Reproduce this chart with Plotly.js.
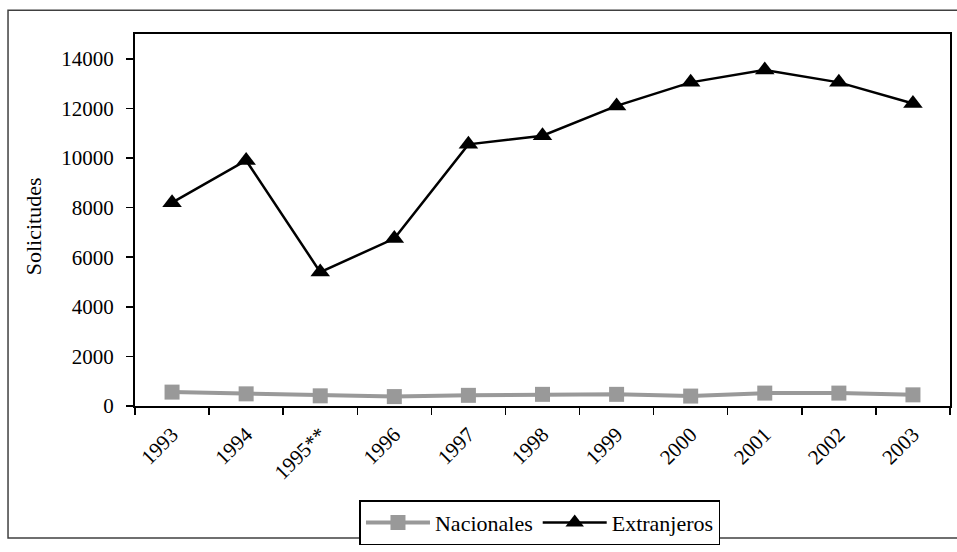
<!DOCTYPE html>
<html>
<head>
<meta charset="utf-8">
<script src="https://cdn.plot.ly/plotly-3.0.1.min.js"></script>
<style>html,body{margin:0;padding:0;background:#fff;}#chart{width:957px;height:552px;}</style>
</head>
<body>
<div id="chart"></div>
<script>
const years = ["1993","1994","1995**","1996","1997","1998","1999","2000","2001","2002","2003"];
const nacionales = [560, 490, 410, 380, 430, 470, 470, 400, 520, 520, 450];
const extranjeros = [8200, 9900, 5400, 6750, 10550, 10900, 12100, 13050, 13550, 13050, 12200];
const yTicks = [0, 2000, 4000, 6000, 8000, 10000, 12000, 14000];
const yTitle = "Solicitudes";

const font = "Liberation Serif, Times New Roman, serif";

const traces = [
  {
    x: years, y: nacionales, name: "Nacionales", type: "scatter", mode: "lines+markers",
    line: {color: "#999999", width: 4},
    marker: {symbol: "square", size: 15, color: "#999999"}
  },
  {
    x: years, y: extranjeros, name: "Extranjeros", type: "scatter", mode: "lines+markers",
    line: {color: "#000000", width: 2.5},
    marker: {symbol: "triangle-up", size: 17, color: "#000000"}
  }
];

const layout = {
  width: 957, height: 552,
  margin: {l: 135, r: 7, t: 34, b: 143},
  paper_bgcolor: "#ffffff", plot_bgcolor: "#ffffff",
  font: {family: font, color: "#000000", size: 21},
  showlegend: true,
  legend: {
    orientation: "h", x: 0.4969, xanchor: "center", y: -0.2533, yanchor: "top",
    bordercolor: "#000000", borderwidth: 1.5, bgcolor: "#ffffff",
    font: {family: font, size: 22, color: "#000000"},
    itemwidth: 64, tracegroupgap: 0
  },
  xaxis: {
    type: "category", range: [-0.5, 10.5], tickangle: -45, tickson: "boundaries", automargin: false,
    ticks: "outside", ticklen: 7, tickwidth: 1.5, tickcolor: "#000", ticklabelstandoff: 6,
    showline: true, linecolor: "#000", linewidth: 2, mirror: true,
    showgrid: false, zeroline: false,
    tickfont: {family: font, size: 21}
  },
  yaxis: {
    range: [0, 15000], tickvals: yTicks, ticktext: yTicks.map(String), automargin: false,
    ticks: "outside", ticklen: 7, tickwidth: 1.5, tickcolor: "#000", ticklabelstandoff: 8,
    showline: true, linecolor: "#000", linewidth: 2, mirror: true,
    showgrid: false, zeroline: false,
    tickfont: {family: font, size: 21}
  },
  annotations: [
    {text: yTitle, xref: "paper", yref: "paper", x: -0.1252, y: 0.483,
     xanchor: "center", yanchor: "middle", textangle: -90, showarrow: false,
     font: {family: font, size: 22, color: "#000000"}}
  ],
  shapes: [
    {type: "rect", xref: "paper", yref: "paper", x0: -0.1558, x1: 1.02, y0: -0.3547, y1: 1.064,
     line: {color: "#404040", width: 1.5}, fillcolor: "rgba(0,0,0,0)", layer: "below"}
  ]
};

Plotly.newPlot("chart", traces, layout, {displayModeBar: false, staticPlot: true});
</script>
</body>
</html>
